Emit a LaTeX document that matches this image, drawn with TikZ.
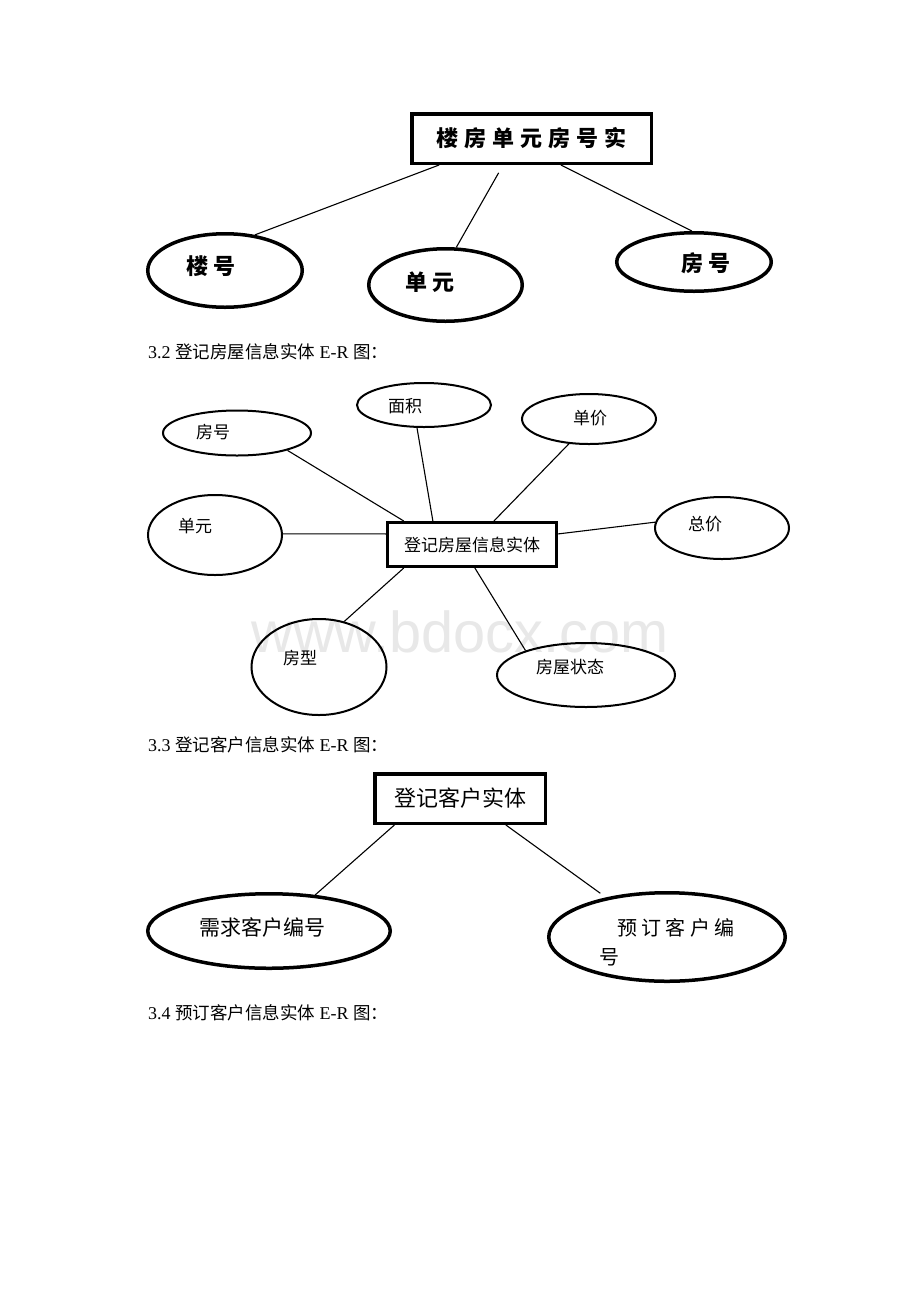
\documentclass[tikz,border=0pt]{standalone}
\usepackage{fontspec}
\setmainfont{Liberation Serif}
\newfontfamily\cjk{Noto Sans CJK SC}
\newfontfamily\wmfont{Liberation Sans}
\usepackage{tikz}
\usetikzlibrary{shapes.geometric}
\newcommand{\lsp}{\hspace{6pt}}
\newcommand{\ssp}{\hspace{4.5pt}}
\newcommand{\capcjk}[1]{{\cjk\fontsize{17.5}{18}\selectfont #1}}
\tikzset{
  ent/.style={draw, rectangle, inner sep=0pt},
  attr/.style={draw, ellipse, inner sep=0pt},
  lbl/.style={inner sep=0pt, font=\cjk\fontsize{17}{17}\selectfont},
  lblbig/.style={inner sep=0pt, font=\cjk\bfseries\fontsize{22}{22}\selectfont},
  lblmid/.style={inner sep=0pt, font=\cjk\fontsize{21}{21}\selectfont},
  capline/.style={anchor=west, inner sep=0pt, font=\fontsize{18}{19}\selectfont},
  link/.style={line width=1.1pt}
}

\begin{document}
\begin{tikzpicture}[x=1pt,y=-1pt]
\fill[white] (0,0) rectangle (920,1302);
\useasboundingbox (0,0) rectangle (920,1302);
\node[anchor=base, inner sep=0pt, text=black!9, font=\wmfont\fontsize{57.7}{58}\selectfont] (mark) at (460,652) {www.bdocx.com};

\node[ent, line width=3.5pt, minimum width=239.5pt, minimum height=49.5pt, lblbig] (lfbox) at (531.5,138.5) {楼\lsp 房\lsp 单\lsp 元\lsp 房\lsp 号\lsp 实};
\node[attr, line width=3.5pt, minimum width=154.5pt, minimum height=73.5pt] (lh1) at (225,270.5) {};
\node[attr, line width=3.5pt, minimum width=153.5pt, minimum height=72.5pt] (dy1) at (445.5,285) {};
\node[attr, line width=3.5pt, minimum width=154.5pt, minimum height=58.5pt] (fh1) at (694,262) {};
\node[lblbig] (lh1txt) at (211,266) {楼\lsp 号};
\node[lblbig] (dy1txt) at (430,282) {单\lsp 元};
\node[lblbig] (fh1txt) at (706,263) {房\lsp 号};
\draw[link] (lfbox.196) -- (lh1.50);
\draw[link, shorten <=9pt] (lfbox.223) -- (dy1.74);
\draw[link] (lfbox.318) -- (fh1.94);

\node[capline] (cap2) at (148,352) {3.2 \capcjk{登记房屋信息实体} E-R \capcjk{图：}};

\node[ent, line width=3pt, minimum width=169pt, minimum height=44pt, lbl] (djbox) at (472,544.5) {登记房屋信息实体};
\node[attr, line width=2pt, minimum width=148pt, minimum height=45pt] (fh2) at (237,433) {};
\node[attr, line width=2pt, minimum width=134pt, minimum height=44pt] (mj) at (424,405) {};
\node[attr, line width=2pt, minimum width=134pt, minimum height=50pt] (dj) at (589,419) {};
\node[attr, line width=2pt, minimum width=134pt, minimum height=80pt] (dy2) at (215,535) {};
\node[attr, line width=2pt, minimum width=134pt, minimum height=62pt] (zj) at (722,528) {};
\node[attr, line width=2pt, minimum width=135pt, minimum height=96pt] (fx) at (319,667) {};
\node[attr, line width=2pt, minimum width=178pt, minimum height=64pt] (zt) at (586,675) {};
\node[lbl] (fh2txt) at (213,432) {房号};
\node[lbl] (mjtxt) at (405,406) {面积};
\node[lbl] (djtxt) at (590,418) {单价};
\node[lbl] (dy2txt) at (195,526) {单元};
\node[lbl] (zjtxt) at (705,524) {总价};
\node[lbl] (fxtxt) at (300,658) {房型};
\node[lbl] (zttxt) at (570,667) {房屋状态};
\draw[link] (djbox.161) -- (fh2.341);
\draw[link] (djbox.149) -- (mj.253);
\draw[link] (djbox.47) -- (dj.231);
\draw[link] (djbox.173) -- (dy2.1);
\draw[link] (djbox.7) -- (zj.175);
\draw[link] (djbox.199) -- (fx.61);
\draw[link] (djbox.277) -- (zt.158);

\node[capline] (cap3) at (148,745) {3.3 \capcjk{登记客户信息实体} E-R \capcjk{图：}};

\node[ent, line width=3.5pt, minimum width=170.5pt, minimum height=49.5pt, font=\cjk\fontsize{22}{22}\selectfont] (khbox) at (460,798.5) {登记客户实体};
\node[attr, line width=3.5pt, minimum width=242.5pt, minimum height=74.5pt] (xq) at (269,931) {};
\node[attr, line width=3.5pt, minimum width=236.5pt, minimum height=88.5pt] (yd) at (667,937) {};
\node[lblmid] (xqtxt) at (262,927) {需求客户编号};
\node[inner sep=0pt, align=left, font=\cjk\fontsize{20}{20}\selectfont] (ydtxt) at (667,942.5) {\hspace*{18pt}预\ssp 订\ssp 客\ssp 户\ssp 编\\[9pt]号};
\draw[link] (khbox.202) -- (xq.38);
\draw[link, shorten >=7pt] (khbox.330) -- (yd.147);

\node[capline] (cap4) at (148,1013) {3.4 \capcjk{预订客户信息实体} E-R \capcjk{图：}};
\end{tikzpicture}
\end{document}
